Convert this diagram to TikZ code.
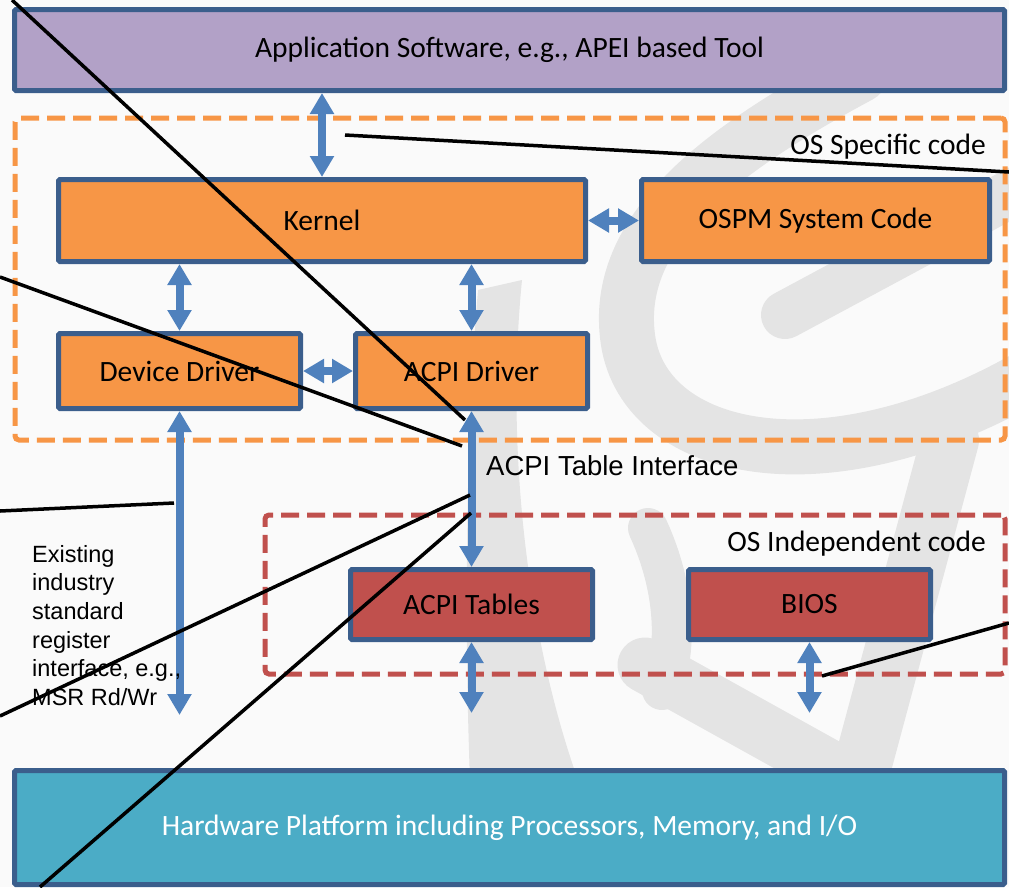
\documentclass[tikz,border=0pt]{standalone}
\usepackage{fontspec}
\setmainfont{Carlito}
\newfontfamily\arialfont{Liberation Sans}
\usetikzlibrary{arrows.meta}
\definecolor{pagebg}{HTML}{FAFAFA}
\definecolor{markgray}{HTML}{E4E4E4}
\definecolor{edgeblue}{HTML}{3B5E8C}
\definecolor{arrowblue}{HTML}{4F81BD}
\definecolor{appfill}{HTML}{B2A1C7}
\definecolor{osfill}{HTML}{F79646}
\definecolor{fwfill}{HTML}{C0504D}
\definecolor{hwfill}{HTML}{4BACC6}
\tikzset{
  box/.style={draw=edgeblue, line width=5pt, rounded corners=1.5pt, inner sep=0pt,
    font=\fontsize{29.5}{35}\selectfont},
  zone/.style={draw, line width=5pt, dash pattern=on 18pt off 8pt, rounded corners=4pt,
    inner sep=0pt},
  dbl/.style={draw=arrowblue, line width=8pt,
    {Triangle[width=23pt,length=21pt]}-{Triangle[width=23pt,length=21pt]}},
  leader/.style={draw=black, line width=3.5pt},
  zonelabel/.style={inner sep=0pt, font=\fontsize{29.5}{35}\selectfont},
  emblem/.style={draw=markgray, line cap=round},
}
\begin{document}
\begin{tikzpicture}[x=1pt,y=-1pt]
% page
\fill[pagebg] (0,0) rectangle (1009,887);
\useasboundingbox (0,0) rectangle (1009,887);

% faint background emblem
\begin{scope}
\clip (0,0) rectangle (1009,887);
\draw[emblem, line width=55pt] (860,75) .. controls (720,150) and (612,230) .. (628,340)
   .. controls (645,455) and (830,495) .. (1040,370);
\draw[emblem, line width=48pt] (785,315) -- (1040,178);
\fill[markgray] (478,290) .. controls (466,430) and (464,620) .. (470,780)
   -- (578,780) .. controls (528,640) and (505,450) .. (522,280) -- cycle;
\draw[emblem, line width=40pt] (648,528) .. controls (672,580) and (680,640) .. (662,690);
\draw[emblem, line width=55pt] (645,665) -- (825,765);
\draw[emblem, line width=58pt] (950,440) -- (860,775);
\end{scope}

% code zones
\node[zone, draw=osfill, minimum width=990pt, minimum height=322pt] (osspec) at (510,279) {};
\node[zone, draw=fwfill, minimum width=740pt, minimum height=159pt] (osindep) at (635,594.5) {};
\node[zonelabel, anchor=base east] (osspeclbl) at (986,154) {OS Specific code};
\node[zonelabel, anchor=base east] (osindeplbl) at (986,551) {OS Independent code};

% blocks
\node[box, fill=appfill, minimum width=990pt, minimum height=81pt] (app) at (509.5,50)
  {Application Software, e.g., APEI based Tool};
\node[box, fill=osfill, minimum width=527pt, minimum height=82pt] (kernel) at (322,220.5) {Kernel};
\node[box, fill=osfill, minimum width=348pt, minimum height=82pt] (ospm) at (815.5,220.5) {OSPM System Code};
\node[box, fill=osfill, minimum width=242pt, minimum height=75pt] (dd) at (179.5,371) {Device Driver};
\node[box, fill=osfill, minimum width=232pt, minimum height=75pt] (acpid) at (471.5,371) {ACPI Driver};
\node[box, fill=fwfill, minimum width=242pt, minimum height=70pt] (tables) at (471.5,604.5) {ACPI Tables};
\node[box, fill=fwfill, minimum width=242pt, minimum height=70pt] (bios) at (809.5,604.5) {BIOS};
\node[box, fill=hwfill, text=white, minimum width=990pt, minimum height=114pt] (hw) at (509.5,827.5)
  {Hardware Platform including Processors, Memory, and I/O};

% free arrow ends
\coordinate (ddend) at (179.5,715);
\coordinate (tablesend) at (471.5,713);
\coordinate (biosend) at (809.5,713);

% interfaces
\draw[dbl] (app.south -| kernel) -- (kernel.north);
\draw[dbl] (kernel.east) -- (ospm.west);
\draw[dbl] (kernel.south -| dd) -- (dd.north);
\draw[dbl] (kernel.south -| acpid) -- (acpid.north);
\draw[dbl] (dd.east) -- (acpid.west);
\draw[dbl] (dd.south) -- (ddend);
\draw[dbl] (acpid.south) -- (tables.north);
\draw[dbl] (tables.south) -- (tablesend);
\draw[dbl] (bios.south) -- (biosend);

% interface labels
\node[inner sep=0pt, anchor=base west, font=\arialfont\fontsize{27.5}{32}\selectfont] (tifc) at (486,475)
  {ACPI Table Interface};
\node[inner sep=0pt, anchor=north west, align=left,
  font=\arialfont\fontsize{23.5}{28.6}\selectfont] (regifc) at (32,545)
  {Existing\\industry\\standard\\register\\interface, e.g.,\\MSR Rd/Wr};

% callout leaders
\coordinate (c1a) at (12,0);    \coordinate (c1b) at (465,420);
\coordinate (c2a) at (0,277);   \coordinate (c2b) at (462,446);
\coordinate (c3a) at (345,135); \coordinate (c3b) at (1009,172);
\coordinate (c4a) at (0,511);   \coordinate (c4b) at (174,503);
\coordinate (c5a) at (0,716);   \coordinate (c5b) at (470,495);
\coordinate (c6a) at (40,887);  \coordinate (c6b) at (471,513);
\coordinate (c7a) at (1009,623);\coordinate (c7b) at (822,676);
\draw[leader] (c1a) -- (c1b);
\draw[leader] (c2a) -- (c2b);
\draw[leader] (c3a) -- (c3b);
\draw[leader] (c4a) -- (c4b);
\draw[leader] (c5a) -- (c5b);
\draw[leader] (c6a) -- (c6b);
\draw[leader] (c7a) -- (c7b);
\end{tikzpicture}
\end{document}
